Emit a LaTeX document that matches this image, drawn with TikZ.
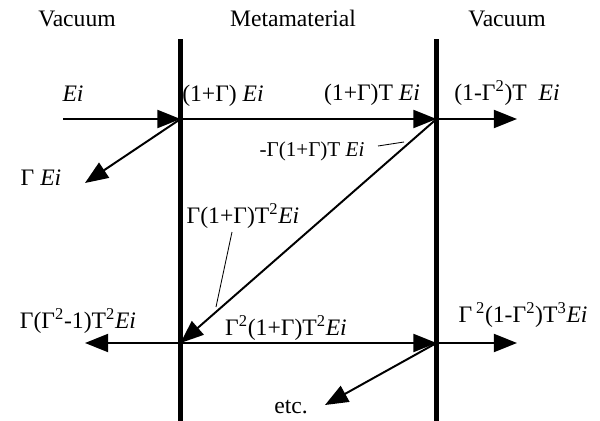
\documentclass[tikz,border=0pt]{standalone}
\usepackage{fontspec}
\setmainfont{Liberation Serif}
\usetikzlibrary{arrows.meta}

\tikzset{
  wall/.style={line width=3.6pt},
  wave/.style={line width=1.4pt, -{Triangle[length=16.4pt, width=12.8pt]}},
  lbl/.style={font=\fontsize{16.8}{20}\selectfont, inner sep=0pt, anchor=base},
  smalllbl/.style={font=\fontsize{15}{18}\selectfont, inner sep=0pt, anchor=base},
  leader/.style={line width=0.6pt},
}
\newcommand{\Ei}{\textit{Ei}}

\begin{document}
\begin{tikzpicture}[x=0.025cm, y=-0.025cm]
    \useasboundingbox (0,0) rectangle (600,421);

    % regions
    \node[lbl] (vacL) at (77,27)  {Vacuum};
    \node[lbl] (meta) at (293,27) {Metamaterial};
    \node[lbl] (vacR) at (507,27) {Vacuum};

    % interfaces
    \coordinate (wLtop) at (180.5,39);
    \coordinate (wLbot) at (180.5,421);
    \coordinate (wRtop) at (436.5,39);
    \coordinate (wRbot) at (436.5,421);
    \draw[wall] (wLtop) -- (wLbot);
    \draw[wall] (wRtop) -- (wRbot);

    % hit points
    \coordinate (A) at (180.5,119);
    \coordinate (B) at (436.5,119);
    \coordinate (C) at (180.5,343);
    \coordinate (D) at (436.5,343);

    % free ends
    \coordinate (src)  at (63,119);
    \coordinate (refA) at (85,183);
    \coordinate (outB) at (517,119);
    \coordinate (outC) at (85,343);
    \coordinate (outD) at (517,343);
    \coordinate (refD) at (325,405);

    % first pass
    \draw[wave] (src) -- (A);
    \draw[wave] (A) -- (refA);
    \draw[wave] (A) -- (B);
    \draw[wave] (B) -- (outB);
    \draw[wave] (B) -- (C);

    % second pass
    \draw[wave] (C) -- (outC);
    \draw[wave] (C) -- (D);
    \draw[wave] (D) -- (outD);
    \draw[wave] (D) -- (refD);

    % labels
    \node[lbl] (lEi)   at (73,101)  {\Ei};
    \node[lbl] (lrefA) at (41,185)  {Γ \Ei};
    \node[lbl] (lAB)   at (223,101) {(1+Γ) \Ei};
    \node[lbl] (lBin)  at (372,100) {(1+Γ)T \Ei};
    \node[lbl] (lout1) at (507,100) {(1-Γ\textsuperscript{2})T\ \ \Ei};
    \node[smalllbl] (lBC) at (312,156) {-Γ(1+Γ)T \Ei};
    \node[lbl] (lCin)  at (243,223) {Γ(1+Γ)T\textsuperscript{2}\Ei};
    \node[lbl] (loutC) at (78,328)  {Γ(Γ\textsuperscript{2}-1)T\textsuperscript{2}\Ei};
    \node[lbl] (lCD)   at (286,335) {Γ\textsuperscript{2}(1+Γ)T\textsuperscript{2}\Ei};
    \node[lbl] (loutD) at (523,322) {Γ\,\textsuperscript{2}(1-Γ\textsuperscript{2})T\textsuperscript{3}\Ei};
    \node[lbl] (letc)  at (291,413) {etc.};

    % leaders
    \draw[leader] (378,146) -- (404,142);
    \draw[leader] (232,232) -- (216,307);
\end{tikzpicture}
\end{document}
